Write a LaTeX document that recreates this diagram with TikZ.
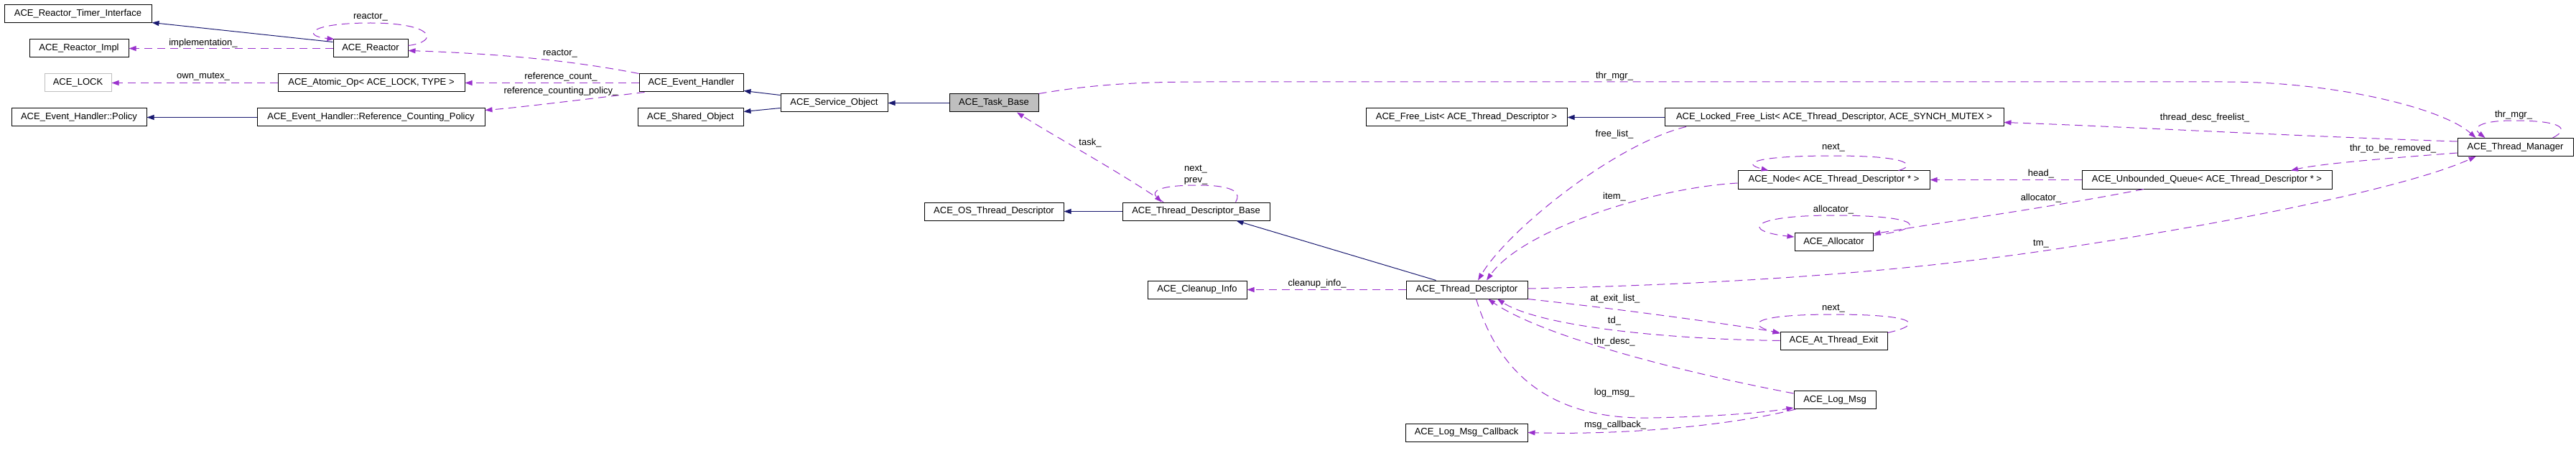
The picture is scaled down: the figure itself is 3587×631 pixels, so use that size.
\documentclass[tikz,border=0pt]{standalone}
\usepackage{fontspec}
\setmainfont{Liberation Sans}
\usetikzlibrary{arrows.meta}
\definecolor{inh}{HTML}{191970}
\definecolor{usec}{HTML}{9A32CD}
\definecolor{grayfill}{HTML}{BFBFBF}
\tikzset{
 cls/.style={draw=black, line width=1pt, rectangle, minimum height=25pt, inner sep=0pt, font=\fontsize{13}{15}\selectfont, fill=white},
 inherit/.style={draw=inh, line width=1pt, -{Triangle[length=10pt,width=7pt]}},
 uses/.style={draw=usec, line width=1pt, dash pattern=on 11pt off 7pt, -{Triangle[length=10pt,width=7pt]}},
 lbl/.style={font=\fontsize{13}{15}\selectfont, inner sep=0pt}
}
\begin{document}
\begin{tikzpicture}[x=1pt,y=-1pt]
\useasboundingbox (0,0) rectangle (3587,631);
% nodes
\node[cls, minimum width=205] (rti) at (108.5,19.5) {ACE\_Reactor\_Timer\_Interface};
\node[cls, minimum width=138] (rimpl) at (110,67.5) {ACE\_Reactor\_Impl};
\node[cls, minimum width=104] (reactor) at (516,67.5) {ACE\_Reactor};
\node[cls, minimum width=93, draw=grayfill] (lock) at (108.5,115.5) {ACE\_LOCK};
\node[cls, minimum width=260] (atomic) at (517,115.5) {ACE\_Atomic\_Op< ACE\_LOCK, TYPE >};
\node[cls, minimum width=188] (policy) at (110,163.5) {ACE\_Event\_Handler::Policy};
\node[cls, minimum width=317] (rcp) at (516.5,163.5) {ACE\_Event\_Handler::Reference\_Counting\_Policy};
\node[cls, minimum width=145] (eh) at (962.5,115.5) {ACE\_Event\_Handler};
\node[cls, minimum width=149] (so) at (1161.5,143.5) {ACE\_Service\_Object};
\node[cls, minimum width=147] (sho) at (961.5,163.5) {ACE\_Shared\_Object};
\node[cls, minimum width=124, fill=grayfill] (tb) at (1384,143.5) {ACE\_Task\_Base};
\node[cls, minimum width=194] (ostd) at (1384,294.5) {ACE\_OS\_Thread\_Descriptor};
\node[cls, minimum width=205] (tdb) at (1665.5,294.5) {ACE\_Thread\_Descriptor\_Base};
\node[cls, minimum width=138] (ci) at (1667,403.5) {ACE\_Cleanup\_Info};
\node[cls, minimum width=169] (td) at (2042.5,403.5) {ACE\_Thread\_Descriptor};
\node[cls, minimum width=170] (lmc) at (2042,602.5) {ACE\_Log\_Msg\_Callback};
\node[cls, minimum width=280] (fl) at (2042,163.5) {ACE\_Free\_List< ACE\_Thread\_Descriptor >};
\node[cls, minimum width=472] (lfl) at (2554,163.5) {ACE\_Locked\_Free\_List< ACE\_Thread\_Descriptor, ACE\_SYNCH\_MUTEX >};
\node[cls, minimum width=267] (nd) at (2553.5,250.5) {ACE\_Node< ACE\_Thread\_Descriptor * >};
\node[cls, minimum width=109] (alloc) at (2553.5,337) {ACE\_Allocator};
\node[cls, minimum width=348] (uq) at (3073,250.5) {ACE\_Unbounded\_Queue< ACE\_Thread\_Descriptor * >};
\node[cls, minimum width=161] (tm) at (3502.5,205) {ACE\_Thread\_Manager};
\node[cls, minimum width=149] (ate) at (2553.5,474.5) {ACE\_At\_Thread\_Exit};
\node[cls, minimum width=114] (lm) at (2555,557) {ACE\_Log\_Msg};

% inheritance
\draw[inherit] ([yshift=9pt]reactor.west) -- ([yshift=1pt]rti.south east);
\draw[inherit] (rcp.west) -- (policy.east);
\draw[inherit] ([yshift=11pt]so.west) -- ([yshift=-11pt]eh.east);
\draw[inherit] ([yshift=-7pt]so.west) -- ([yshift=8pt]sho.east);
\draw[inherit] (tb.west) -- (so.east);
\draw[inherit] (tdb.west) -- (ostd.east);
\draw[inherit] ([xshift=-43pt]td.north) -- ([xshift=56pt]tdb.south);
\draw[inherit] (lfl.west) -- (fl.east);

% usage
\draw[uses] ([yshift=4pt]reactor.east) .. controls (612,58) and (605,32) .. (516,32) .. controls (430,32) and (420,50) .. ([xshift=2pt]reactor.north west);
\node[lbl] (lreactor1) at (516,24) {reactor\_};
\draw[uses] (reactor.west) -- (rimpl.east);
\node[lbl] (limpl) at (283,60) {implementation\_};
\draw[uses] (eh.north west) .. controls (800,85) and (700,75) .. ([yshift=-3pt]reactor.east);
\node[lbl] (lreactor2) at (780,75) {reactor\_};
\draw[uses] (atomic.west) -- (lock.east);
\node[lbl] (lown) at (283,107) {own\_mutex\_};
\draw[uses] (eh.west) -- (atomic.east);
\node[lbl] (lrefc) at (781,107) {reference\_count\_};
\draw[uses] ([xshift=8pt]eh.south west) .. controls (800,140) and (720,150) .. ([yshift=10pt]rcp.east);
\node[lbl] (lrefcp) at (781,127) {reference\_counting\_policy\_};

\draw[uses] (tb.north east) .. controls (1520,118) and (1580,114) .. (1680,114) -- (3100,114) .. controls (3250,114) and (3400,150) .. ([xshift=-55pt]tm.north);
\node[lbl] (lthrmgr) at (2248,106) {thr\_mgr\_};

\draw[uses] ([xshift=-45.5pt]tdb.north) .. controls (1560,240) and (1460,185) .. ([xshift=32pt]tb.south);
\node[lbl] (ltask) at (1518,199) {task\_};
\draw[uses] ([xshift=55pt]tdb.north) .. controls (1728,270) and (1722,258) .. (1668,258) .. controls (1615,258) and (1602,266) .. ([xshift=-48pt]tdb.north);
\node[lbl] (lnext1) at (1665,236) {next\_};
\node[lbl] (lprev) at (1665,252) {prev\_};

\draw[uses] (td.west) -- (ci.east);
\node[lbl] (lclean) at (1834,395) {cleanup\_info\_};

\draw[uses] ([xshift=-206pt]lfl.south) .. controls (2250,200) and (2100,320) .. ([xshift=15.5pt]td.north);
\node[lbl] (lfree) at (2248,187) {free\_list\_};
\draw[uses] ([yshift=-4.5pt]nd.west) .. controls (2300,262) and (2120,320) .. ([xshift=27.5pt]td.north);
\node[lbl] (litem) at (2248,274) {item\_};
\draw[uses] ([xshift=90pt]nd.north) .. controls (2665,232) and (2668,217) .. (2553,217) .. controls (2440,217) and (2425,228) .. ([xshift=-91pt]nd.north);
\node[lbl] (lnext2) at (2553,206) {next\_};
\draw[uses] (uq.west) -- (nd.east);
\node[lbl] (lhead) at (2842,242) {head\_};
\draw[uses] ([xshift=-88pt]uq.south) .. controls (2850,290) and (2700,310) .. ([yshift=-2pt]alloc.north east);
\node[lbl] (lalloc1) at (2842,276) {allocator\_};
\draw[uses] ([yshift=-4pt]alloc.north east) .. controls (2690,318) and (2675,300) .. (2553,300) .. controls (2435,300) and (2425,322) .. ([yshift=-6pt]alloc.north west);
\node[lbl] (lalloc2) at (2553,292) {allocator\_};

\draw[uses] ([xshift=52pt]tm.north) .. controls (3578,180) and (3570,168) .. (3500,168) .. controls (3452,168) and (3442,178) .. ([xshift=-42pt]tm.north);
\node[lbl] (lthrmgr2) at (3500,160) {thr\_mgr\_};
\draw[uses] ([yshift=8pt]tm.west) .. controls (3200,190) and (2950,176) .. ([yshift=-7pt]lfl.east);
\node[lbl] (ltdf) at (3070,164) {thread\_desc\_freelist\_};
\draw[uses] ([yshift=-8pt]tm.west) .. controls (3330,220) and (3230,228) .. ([xshift=117pt]uq.north);
\node[lbl] (lttbr) at (3332,207) {thr\_to\_be\_removed\_};

\draw[uses] ([yshift=1.5pt]td.east) .. controls (2350,397) and (2600,385) .. (2842,350) .. controls (3100,312) and (3350,262) .. ([xshift=-55pt]tm.south);
\node[lbl] (ltm) at (2842,340) {tm\_};

\draw[uses] (td.south east) .. controls (2250,430) and (2400,450) .. ([yshift=-2pt]ate.north west);
\node[lbl] (lael) at (2249,416) {at\_exit\_list\_};
\draw[uses] ([yshift=-2pt]ate.north east) .. controls (2680,452) and (2670,438) .. (2553,438) .. controls (2440,438) and (2430,452) .. ([yshift=-3pt]ate.north west);
\node[lbl] (lnext3) at (2553,430) {next\_};
\draw[uses] (ate.west) .. controls (2300,472) and (2140,452) .. ([xshift=42.5pt]td.south);
\node[lbl] (ltd) at (2248,447) {td\_};
\draw[uses] ([yshift=-4pt]lm.north west) .. controls (2350,520) and (2150,470) .. ([xshift=29.5pt]td.south);
\node[lbl] (lthrdesc) at (2248,476) {thr\_desc\_};
\draw[uses] ([xshift=13pt]td.south) .. controls (2090,530) and (2170,585) .. (2300,582) .. controls (2400,580) and (2460,574) .. ([yshift=2pt]lm.south west);
\node[lbl] (llogmsg) at (2248,547) {log\_msg\_};
\draw[uses] ([xshift=3pt]lm.south west) .. controls (2400,595) and (2250,606) .. (lmc.east);
\node[lbl] (lmcb) at (2249,592) {msg\_callback\_};
\end{tikzpicture}
\end{document}
